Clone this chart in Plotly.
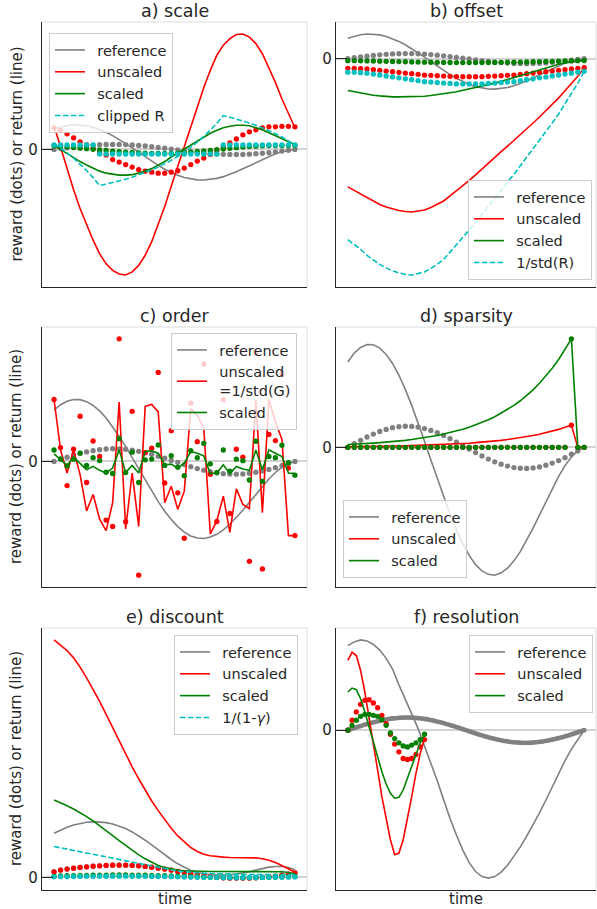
import numpy as np
import plotly.graph_objects as go

# ---------------------------------------------------------------- data
t = np.arange(38)                      # coarse time steps
t_fine = np.arange(112) / 3.0          # fine time steps (panel f reference)
t_res = t_fine[::2][:19]               # coarse steps used by panel f agents

# shared reference: reward per step and its discounted return
ref_reward = [0.0, 0.17, 0.33, 0.49, 0.63, 0.75, 0.85, 0.93, 0.98, 1.0, 0.99, 0.96, 0.89, 0.80,
              0.69, 0.56, 0.41, 0.25, 0.08, -0.08, -0.25, -0.41, -0.56, -0.69, -0.80, -0.89,
              -0.96, -0.99, -1.0, -0.98, -0.93, -0.85, -0.75, -0.63, -0.49, -0.33, -0.17, 0.0]
ref_return = [4.05, 4.47, 4.74, 4.88, 4.87, 4.71, 4.41, 3.98, 3.42, 2.75, 1.99, 1.17, 0.30, -0.60,
              -1.49, -2.35, -3.17, -3.92, -4.58, -5.13, -5.57, -5.87, -6.03, -6.07, -5.96, -5.74,
              -5.39, -4.95, -4.43, -3.84, -3.22, -2.58, -1.96, -1.38, -0.87, -0.46, -0.16, 0.0]

# a) scale
scale_unscaled_r = [4.3, 3.8, 3.1, 2.3, 1.5, 0.9, 0.2, -0.5, -1.1, -2.0, -2.5, -3.0, -3.5, -4.0, -4.3,
                    -4.5, -4.7, -4.7, -4.5, -4.2, -3.7, -3.0, -2.3, -1.7, -1.0, -0.2, 0.5, 1.3, 2.1,
                    2.9, 3.5, 3.9, 4.3, 4.5, 4.5, 4.6, 4.6, 4.5]
scale_unscaled_G = [4.7, 0.3, -4.0, -8.0, -11.7, -15.0, -18.0, -20.7, -22.7, -24.0, -24.7, -24.9,
                    -24.3, -23.0, -21.0, -18.3, -15.0, -11.3, -7.3, -3.3, 0.7, 4.7, 8.7, 12.3, 15.7,
                    18.7, 20.7, 22.0, 22.8, 22.9, 22.3, 21.0, 19.0, 16.3, 13.3, 10.0, 7.0, 4.3]
scale_scaled_r = [0.73, 0.65, 0.53, 0.39, 0.26, 0.15, 0.03, -0.09, -0.19, -0.34, -0.43, -0.51, -0.6,
                  -0.68, -0.73, -0.77, -0.8, -0.8, -0.77, -0.71, -0.63, -0.51, -0.39, -0.29, -0.17,
                  -0.03, 0.09, 0.22, 0.36, 0.49, 0.6, 0.66, 0.73, 0.77, 0.77, 0.78, 0.78, 0.77]
scale_scaled_G = [0.8, 0.0, -0.8, -1.7, -2.4, -3.1, -3.7, -4.3, -4.7, -4.9, -5.1, -5.1, -5.0, -4.7,
                  -4.3, -3.8, -3.1, -2.4, -1.5, -0.7, 0.1, 0.9, 1.7, 2.5, 3.2, 3.8, 4.3, 4.6, 4.8,
                  4.8, 4.7, 4.3, 3.9, 3.3, 2.7, 2.1, 1.5, 1.0]
scale_clipped_r = [0.9, 0.9, 0.9, 0.9, 0.9, 0.9, 0.9, -0.9, -0.9, -0.9, -0.9, -0.9, -0.9, -0.9, -0.9,
                   -0.9, -0.9, -0.9, -0.9, -0.9, -0.9, -0.9, -0.9, -0.9, -0.9, -0.9, 0.9, 0.9, 0.9,
                   0.9, 0.9, 0.9, 0.9, 0.9, 0.9, 0.9, 0.9, 0.9]
scale_clipped_G = [1.17, 0.30, -0.67, -1.73, -2.89, -4.18, -5.59, -7.15, -6.88, -6.59, -6.26, -5.91,
                   -5.51, -5.08, -4.60, -4.08, -3.50, -2.86, -2.16, -1.39, -0.54, 0.40, 1.43, 2.57,
                   3.82, 5.19, 6.71, 6.40, 6.06, 5.68, 5.26, 4.81, 4.30, 3.75, 3.13, 2.46, 1.72, 0.90]

# b) offset
offset_unscaled_r = [-1.93, -1.93, -2.0, -2.07, -2.2, -2.33, -2.47, -2.6, -2.73, -2.87, -3.0, -3.13,
                     -3.27, -3.33, -3.4, -3.47, -3.53, -3.6, -3.6, -3.6, -3.6, -3.6, -3.53, -3.47,
                     -3.4, -3.33, -3.27, -3.13, -3.0, -2.87, -2.73, -2.6, -2.47, -2.33, -2.2, -2.07,
                     -1.93, -1.8]
offset_unscaled_G = [-25.5, -26.2, -26.9, -27.7, -28.4, -29.0, -29.5, -29.9, -30.2, -30.4, -30.5,
                     -30.3, -30.1, -29.6, -29.0, -28.3, -27.3, -26.3, -25.3, -24.2, -23.1, -21.9,
                     -20.8, -19.7, -18.5, -17.4, -16.3, -15.1, -14.0, -12.8, -11.6, -10.4, -9.1,
                     -7.8, -6.4, -5.0, -3.5, -1.8]
offset_scaled_r = [-0.42, -0.42, -0.44, -0.46, -0.48, -0.51, -0.54, -0.57, -0.6, -0.63, -0.66, -0.69,
                   -0.72, -0.73, -0.75, -0.76, -0.78, -0.79, -0.79, -0.79, -0.79, -0.79, -0.78, -0.76,
                   -0.75, -0.73, -0.72, -0.69, -0.66, -0.63, -0.6, -0.57, -0.54, -0.51, -0.48, -0.46,
                   -0.42, -0.4]
offset_scaled_G = [-6.33, -6.6, -6.87, -7.07, -7.27, -7.4, -7.53, -7.6, -7.6, -7.6, -7.6, -7.53,
                   -7.47, -7.33, -7.2, -7.0, -6.8, -6.6, -6.33, -6.07, -5.8, -5.53, -5.2, -4.87,
                   -4.53, -4.2, -3.8, -3.4, -3.0, -2.6, -2.2, -1.8, -1.47, -1.13, -0.87, -0.67,
                   -0.47, -0.33]
offset_norm_r = [-2.7, -2.7, -2.8, -2.9, -3.08, -3.26, -3.46, -3.64, -3.82, -4.02, -4.2, -4.38, -4.58,
                 -4.66, -4.76, -4.86, -4.94, -5.04, -5.04, -5.04, -5.04, -5.04, -4.94, -4.86, -4.76,
                 -4.66, -4.58, -4.38, -4.2, -4.02, -3.82, -3.64, -3.46, -3.26, -3.08, -2.9, -2.7,
                 -2.52]
offset_norm_G = [-36.0, -36.9, -37.9, -39.1, -40.0, -40.9, -41.6, -42.2, -42.6, -42.9, -43.0, -42.7,
                 -42.4, -41.7, -40.9, -39.9, -38.5, -37.1, -35.7, -34.1, -32.6, -30.9, -29.3, -27.8,
                 -26.1, -24.5, -23.0, -21.3, -19.7, -18.0, -16.4, -14.7, -12.8, -11.0, -9.0, -7.1,
                 -4.9, -2.5]

# c) order
order_unscaled_r = [4.88, 1.09, -1.9, 0.96, 3.56, -1.66, 1.61, 0.39, -4.62, -5.12, 9.66, -4.75, 3.95,
                    -8.96, 0.7, 1.04, 7.01, -1.69, 2.42, -2.47, -6.05, 4.6, 1.56, 7.66, -1.0, -4.73,
                    4.86, -4.1, 0.96, 0.34, -7.87, 8.57, -8.47, 2.13, 1.64, 6.9, -0.52, -5.84]
order_unscaled_G = [4.88, 0.91, -0.91, 0.91, -1.04, -3.9, -2.6, -4.55, -5.45, -3.25, 4.68, -5.32,
                    -0.91, -5.12, 4.34, 4.49, 3.9, -3.25, -1.95, -3.77, -2.34, 4.16, 3.64, 2.6, -5.71,
                    -4.68, -2.73, -5.58, -2.16, -3.38, -3.71, 4.86, -4.03, 4.86, 3.12, 1.74, -5.84,
                    -5.84]
order_scaled_r = [0.9, 0.2, -0.35, 0.18, 0.66, -0.31, 0.3, 0.07, -0.85, -0.95, 1.79, -0.88, 0.73,
                  -1.66, 0.13, 0.19, 1.3, -0.31, 0.45, -0.46, -1.12, 0.85, 0.29, 1.42, -0.19, -0.88,
                  0.9, -0.76, 0.18, 0.06, -1.46, 1.59, -1.57, 0.39, 0.3, 1.28, -0.1, -1.08]
order_scaled_G = [0.6, 0.13, -0.31, 0.34, -0.13, -0.65, -0.39, -0.7, -0.91, -0.52, 0.91, -0.86,
                  -0.31, -0.91, 0.78, 0.83, 0.65, -0.26, -0.21, -0.52, -0.13, 0.78, 0.65, 0.44,
                  -0.96, -0.91, -0.26, -0.96, -0.39, -0.6, -0.7, 0.91, -0.65, 0.91, 0.65, 0.39,
                  -0.91, -0.96]

# d) sparsity
sparse_unscaled_r = [0.0] * 35 + [1.05, 0.0, 0.0]
sparse_scaled_r = [0.0] * 35 + [5.15, 0.0, 0.0]
sparse_unscaled_G = [0.03, 0.03, 0.03, 0.04, 0.04, 0.04, 0.05, 0.06, 0.06, 0.07, 0.08, 0.08, 0.09,
                     0.10, 0.11, 0.13, 0.14, 0.16, 0.18, 0.19, 0.22, 0.24, 0.27, 0.30, 0.33, 0.37,
                     0.41, 0.45, 0.50, 0.56, 0.62, 0.69, 0.77, 0.85, 0.95, 1.05, 0.0, 0.0]
sparse_scaled_G = [0.13, 0.14, 0.16, 0.18, 0.20, 0.22, 0.24, 0.27, 0.30, 0.33, 0.37, 0.41, 0.46,
                   0.50, 0.56, 0.63, 0.70, 0.77, 0.86, 0.95, 1.06, 1.18, 1.31, 1.45, 1.62, 1.80,
                   1.99, 2.21, 2.46, 2.73, 3.04, 3.38, 3.75, 4.17, 4.64, 5.15, 0.0, 0.0]

# e) discount
disc_r = [1.7, 2.2, 2.5, 2.8, 3.0, 3.2, 3.4, 3.5, 3.6, 3.7, 3.7, 3.7, 3.6, 3.5, 3.3, 3.1, 2.8, 2.5,
          2.2, 1.8, 1.4, 1.0, 0.7, 0.4, 0.2, 0.0, -0.1, -0.2, -0.2, -0.2, -0.2, -0.1, 0.0, 0.2, 0.4,
          0.7, 1.0, 1.4]
disc_scaled_r = [0.34, 0.44, 0.5, 0.56, 0.6, 0.64, 0.68, 0.7, 0.72, 0.74, 0.74, 0.74, 0.72, 0.7,
                 0.66, 0.62, 0.56, 0.5, 0.44, 0.36, 0.28, 0.2, 0.14, 0.08, 0.04, 0.0, -0.02, -0.04,
                 -0.04, -0.04, -0.04, -0.02, 0.0, 0.04, 0.08, 0.14, 0.2, 0.28]
disc_norm_r = [0.17, 0.22, 0.25, 0.28, 0.3, 0.32, 0.34, 0.35, 0.36, 0.37, 0.37, 0.37, 0.36, 0.35,
               0.33, 0.31, 0.28, 0.25, 0.22, 0.18, 0.14, 0.1, 0.07, 0.04, 0.02, 0.0, -0.01, -0.02,
               -0.02, -0.02, -0.02, -0.01, 0.0, 0.02, 0.04, 0.07, 0.1, 0.14]
disc_ref_G = [13.3, 14.3, 15.1, 15.8, 16.3, 16.6, 16.8, 16.7, 16.5, 16.1, 15.5, 14.7, 13.7, 12.5,
              11.2, 9.8, 8.3, 6.8, 5.4, 4.1, 3.0, 2.1, 1.5, 1.1, 0.8, 0.7, 0.7, 0.8, 1.0, 1.3, 1.7,
              2.2, 2.7, 3.1, 3.3, 3.3, 3.0, 2.3]
disc_unscaled_G = [71.5, 70.0, 68.3, 66.1, 63.3, 60.1, 56.6, 53.0, 49.1, 45.1, 41.1, 37.3, 33.3,
                   29.7, 26.3, 23.0, 20.1, 17.3, 14.8, 12.5, 10.6, 9.0, 7.8, 7.0, 6.5, 6.2, 6.1,
                   6.0, 6.0, 6.0, 6.0, 5.9, 5.6, 5.2, 4.5, 3.6, 2.6, 1.5]
disc_scaled_G = [23.3, 22.5, 21.6, 20.6, 19.5, 18.3, 17.0, 15.6, 14.1, 12.6, 11.1, 9.6, 8.1, 6.8,
                 5.6, 4.5, 3.6, 3.0, 2.5, 2.2, 2.0, 1.9, 1.8, 1.8, 1.8, 1.8, 1.8, 1.8, 1.8, 1.8,
                 1.8, 1.8, 1.8, 1.8, 1.7, 1.7, 1.5, 1.1]
disc_norm_G = [9.3, 8.9, 8.5, 8.1, 7.7, 7.3, 6.9, 6.5, 6.1, 5.7, 5.3, 4.9, 4.5, 4.1, 3.7, 3.3, 2.9,
               2.5, 2.2, 1.9, 1.7, 1.5, 1.4, 1.3, 1.2, 1.1, 1.0, 1.0, 0.9, 0.9, 0.9, 0.9, 0.9, 0.9,
               0.9, 0.9, 0.9, 0.9]

# f) resolution
res_ref_r = [0.00, 0.06, 0.11, 0.17, 0.22, 0.28, 0.33, 0.39, 0.44, 0.49, 0.54, 0.58, 0.63, 0.67,
             0.71, 0.75, 0.79, 0.82, 0.85, 0.88, 0.91, 0.93, 0.95, 0.96, 0.98, 0.99, 1.00, 1.00,
             1.00, 1.00, 0.99, 0.98, 0.97, 0.96, 0.94, 0.92, 0.89, 0.87, 0.84, 0.80, 0.77, 0.73,
             0.69, 0.65, 0.61, 0.56, 0.51, 0.46, 0.41, 0.36, 0.31, 0.25, 0.20, 0.14, 0.08, 0.03,
             -0.03, -0.08, -0.14, -0.20, -0.25, -0.31, -0.36, -0.41, -0.46, -0.51, -0.56, -0.61,
             -0.65, -0.69, -0.73, -0.77, -0.80, -0.84, -0.87, -0.89, -0.92, -0.94, -0.96, -0.97,
             -0.98, -0.99, -1.00, -1.00, -1.00, -1.00, -0.99, -0.98, -0.96, -0.95, -0.93, -0.91,
             -0.88, -0.85, -0.82, -0.79, -0.75, -0.71, -0.67, -0.63, -0.58, -0.54, -0.49, -0.44,
             -0.39, -0.33, -0.28, -0.22, -0.17, -0.11, -0.06, 0.00]
res_ref_G = [6.71, 7.0, 7.16, 7.08, 6.8, 6.35, 5.7, 4.85, 3.6, 2.5, 1.3, 0.13, -1.2, -2.6, -4.0,
             -5.5, -7.0, -8.3, -9.5, -10.5, -11.2, -11.6, -11.72, -11.6, -11.25, -10.7, -10.0,
             -9.25, -8.4, -7.5, -6.55, -5.55, -4.5, -3.4, -2.4, -1.5, -0.7, 0.0]
res_unscaled_r = [0.0, 0.79, 1.45, 2.05, 2.37, 2.42, 2.16, 1.79, 1.18, 0.53, -0.32, -1.1, -1.71,
                  -2.24, -2.32, -2.24, -1.92, -1.32, -0.74]
res_scaled_r = [0.0, 0.39, 0.79, 1.1, 1.26, 1.26, 1.18, 1.1, 0.84, 0.39, -0.21, -0.66, -1.0, -1.24,
                -1.32, -1.18, -1.0, -0.74, -0.32]
res_unscaled_G = [5.53, 6.18, 5.92, 4.74, 3.03, 1.05, -1.05, -3.16, -5.26, -7.1, -8.68, -9.87,
                  -9.74, -8.68, -7.1, -5.26, -3.42, -1.84, -0.66]
res_scaled_G = [3.03, 3.34, 3.21, 2.5, 1.45, 0.26, -0.92, -2.1, -3.29, -4.26, -5.0, -5.39, -5.32,
                -4.74, -3.82, -2.76, -1.84, -1.0, -0.32]

titles = ["a) scale", "b) offset", "c) order", "d) sparsity", "e) discount", "f) resolution"]

# ---------------------------------------------------------------- style
GRAY, RED, GREEN, CYAN = "#808080", "#ff0000", "#008000", "#00bfbf"
INK = "#262626"
FONT = "DejaVu Sans"
W, H = 597, 909
LW = 1.6
DOT = 5.3
GAP = "\u2002"   # small gap between legend line sample and its label

# panel boxes in pixels: left, right, top, bottom
boxes = {1: (42, 307, 22, 287), 2: (336, 596, 22, 287),
         3: (42, 307, 327, 587), 4: (336, 596, 327, 587),
         5: (42, 307, 628, 890), 6: (336, 596, 628, 890)}

fig = go.Figure()
panel_vals = {k: [] for k in boxes}


def sfx(k):
    return "" if k == 1 else str(k)


def line(k, x, y, color, name=None, dash=None):
    panel_vals[k].extend(y)
    fig.add_trace(go.Scatter(
        x=x, y=y, mode="lines", name=None if name is None else GAP + name,
        showlegend=name is not None,
        legend="legend" + sfx(k), xaxis="x" + sfx(k), yaxis="y" + sfx(k),
        line=dict(color=color, width=LW, dash=dash), hoverinfo="skip"))


def dots(k, x, y, color, size=DOT):
    panel_vals[k].extend(y)
    fig.add_trace(go.Scatter(
        x=x, y=y, mode="markers", showlegend=False,
        xaxis="x" + sfx(k), yaxis="y" + sfx(k),
        marker=dict(color=color, size=size, line=dict(width=0)), hoverinfo="skip"))


DASH = "5.5px,2.4px"

# a) scale
line(1, t, ref_return, GRAY, "reference"); dots(1, t, ref_reward, GRAY)
line(1, t, scale_unscaled_G, RED, "unscaled"); dots(1, t, scale_unscaled_r, RED)
line(1, t, scale_scaled_G, GREEN, "scaled"); dots(1, t, scale_scaled_r, GREEN)
line(1, t, scale_clipped_G, CYAN, "clipped R", DASH); dots(1, t, scale_clipped_r, CYAN)

# b) offset
line(2, t, ref_return, GRAY, "reference"); dots(2, t, ref_reward, GRAY)
line(2, t, offset_unscaled_G, RED, "unscaled"); dots(2, t, offset_unscaled_r, RED)
line(2, t, offset_scaled_G, GREEN, "scaled"); dots(2, t, offset_scaled_r, GREEN)
line(2, t, offset_norm_G, CYAN, "1/std(R)", DASH); dots(2, t, offset_norm_r, CYAN)

# c) order
line(3, t, ref_return, GRAY, "reference"); dots(3, t, ref_reward, GRAY)
line(3, t, order_unscaled_G, RED, "unscaled<br>" + GAP + "=1/std(G)"); dots(3, t, order_unscaled_r, RED)
line(3, t, order_scaled_G, GREEN, "scaled"); dots(3, t, order_scaled_r, GREEN)

# d) sparsity
line(4, t, ref_return, GRAY, "reference"); dots(4, t, ref_reward, GRAY)
line(4, t, sparse_unscaled_G, RED, "unscaled"); dots(4, t, sparse_unscaled_r, RED)
line(4, t, sparse_scaled_G, GREEN, "scaled"); dots(4, t, sparse_scaled_r, GREEN)

# e) discount
line(5, t, disc_ref_G, GRAY, "reference"); dots(5, t, disc_r, GRAY)
line(5, t, disc_unscaled_G, RED, "unscaled"); dots(5, t, disc_r, RED)
line(5, t, disc_scaled_G, GREEN, "scaled"); dots(5, t, disc_scaled_r, GREEN)
line(5, t, disc_norm_G, CYAN, "1/(1-<i>γ</i>)", DASH); dots(5, t, disc_norm_r, CYAN)

# f) resolution
line(6, t, res_ref_G, GRAY, "reference"); dots(6, t_fine, res_ref_r, GRAY, 4.8)
line(6, t_res, res_unscaled_G, RED, "unscaled"); dots(6, t_res, res_unscaled_r, RED)
line(6, t_res, res_scaled_G, GREEN, "scaled"); dots(6, t_res, res_scaled_r, GREEN)

# ---------------------------------------------------------------- axes
x_pad = 0.05 * 37
layout = dict(width=W, height=H, margin=dict(l=0, r=0, t=0, b=0),
              paper_bgcolor="white", plot_bgcolor="white",
              font=dict(family=FONT, size=15, color=INK), showlegend=True)
shapes, annotations = [], []
for k, (l, r, tp, bt) in boxes.items():
    xd = [l / W, r / W]
    yd = [1 - bt / H, 1 - tp / H]
    lo, hi = min(panel_vals[k]), max(panel_vals[k])
    pad = 0.05 * (hi - lo)
    layout["xaxis" + sfx(k)] = dict(
        domain=xd, range=[-x_pad, 37 + x_pad], anchor="y" + sfx(k),
        showline=True, linecolor=INK, linewidth=1.25, showgrid=False, zeroline=False,
        showticklabels=False, ticks="", fixedrange=True)
    layout["yaxis" + sfx(k)] = dict(
        domain=yd, range=[lo - pad, hi + pad], anchor="x" + sfx(k),
        showline=True, linecolor=INK, linewidth=1.25, showgrid=False,
        zeroline=True, zerolinecolor="#d3d3d3", zerolinewidth=1.5,
        tickmode="array", tickvals=[0], ticktext=["0"], ticks="inside", ticklen=11,
        tickwidth=1.25, tickcolor=INK, tickfont=dict(size=15, color=INK), fixedrange=True)
    # light top and right frame
    for (x0, y0, x1, y1) in [(0, 1, 1, 1), (1, 0, 1, 1)]:
        shapes.append(dict(type="line", xref="x" + sfx(k) + " domain", yref="y" + sfx(k) + " domain",
                           x0=x0, y0=y0, x1=x1, y1=y1, line=dict(color="#dcdcdc", width=1)))
    annotations.append(dict(text=titles[k - 1], x=(l + r) / 2 / W, y=1 - (tp - 11) / H,
                            xref="paper", yref="paper", showarrow=False, xanchor="center",
                            yanchor="middle", font=dict(size=17.5, color=INK)))
    if k in (1, 3, 5):
        annotations.append(dict(text="reward (dots) or return (line)", x=16 / W,
                                y=1 - (tp + bt) / 2 / H, xref="paper", yref="paper",
                                showarrow=False, textangle=-90, xanchor="center",
                                yanchor="middle", font=dict(size=15, color=INK)))
    if k in (5, 6):
        annotations.append(dict(text="time", x=(l + r) / 2 / W, y=1 - 899 / H,
                                xref="paper", yref="paper", showarrow=False,
                                xanchor="center", yanchor="middle", font=dict(size=15, color=INK)))


def legend_cfg(x, y, xa, ya):
    return dict(x=x / W, y=1 - y / H, xanchor=xa, yanchor=ya, xref="paper", yref="paper",
                bgcolor="rgba(255,255,255,0.8)", bordercolor="#cccccc", borderwidth=1,
                font=dict(family=FONT, size=14.5, color=INK), tracegroupgap=0,
                itemclick=False, itemdoubleclick=False)


layout["legend"] = legend_cfg(49, 33, "left", "top")
layout["legend2"] = legend_cfg(592, 280, "right", "bottom")
layout["legend3"] = legend_cfg(297, 333, "right", "top")
layout["legend4"] = legend_cfg(343, 578, "left", "bottom")
layout["legend5"] = legend_cfg(298, 635, "right", "top")
layout["legend6"] = legend_cfg(593, 635, "right", "top")
layout["shapes"] = shapes
layout["annotations"] = annotations

fig.update_layout(**layout)
fig.write_html("out.html")
